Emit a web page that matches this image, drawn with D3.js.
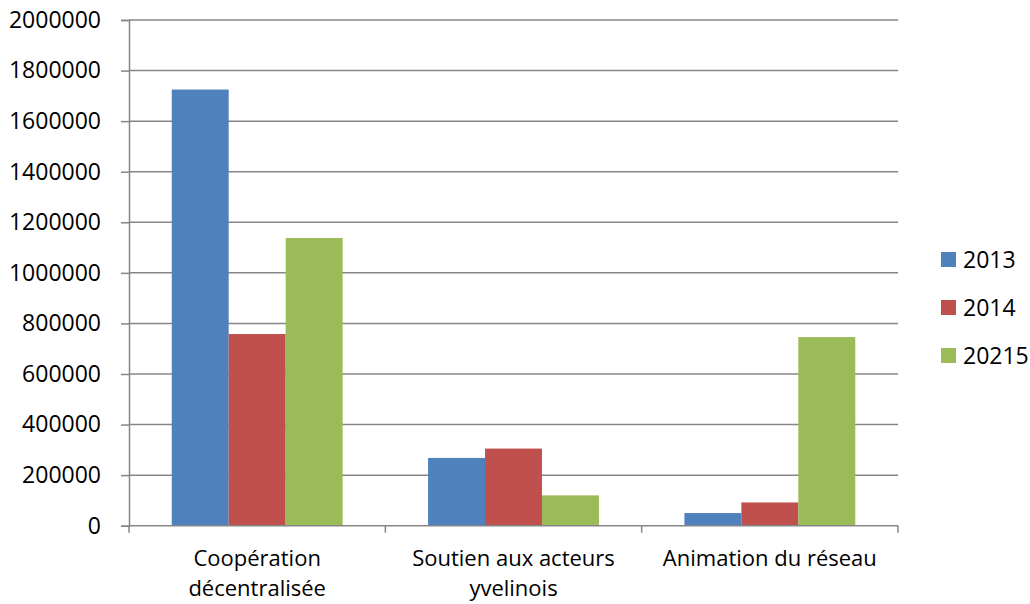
<!DOCTYPE html>
<html>
<head>
<meta charset="utf-8">
<script src="https://cdn.jsdelivr.net/npm/d3@7"></script>
<style>
  html, body { margin: 0; padding: 0; background: #fff; }
  svg text { font-family: "Open Sans", "DejaVu Sans", sans-serif; fill: #000; }
</style>
</head>
<body>
<svg id="chart" width="1030" height="604"></svg>
<script>
// Budget par axe d'action (euros)
const categories = ["Coopération décentralisée", "Soutien aux acteurs yvelinois", "Animation du réseau"];
const categoryLines = [["Coopération", "décentralisée"], ["Soutien aux acteurs", "yvelinois"], ["Animation du réseau"]];
const seriesNames = ["2013", "2014", "20215"];
const values2013 = [1725000, 268000, 50000];
const values2014 = [758000, 305000, 92000];
const values2015 = [1138000, 120000, 746000];
const seriesColors = ["#4F81BD", "#C0504D", "#9BBB59"];
const yTicks = [0, 200000, 400000, 600000, 800000, 1000000, 1200000, 1400000, 1600000, 1800000, 2000000];

const seriesValues = [values2013, values2014, values2015];
const table = categories.map((c, i) => ({
  category: c,
  lines: categoryLines[i],
  values: seriesNames.map((s, j) => ({ series: s, value: seriesValues[j][i], color: seriesColors[j] }))
}));

const FONT = 23;
const CAT_FONT = 22;
const AXIS_COLOR = "#868686";

const svg = d3.select("#chart");
const plot = { left: 129, right: 898, top: 20, bottom: 525.7 };

const y = d3.scaleLinear().domain([0, 2000000]).range([plot.bottom, plot.top]);
const x0 = d3.scaleBand().domain(categories).range([plot.left, plot.right]).padding(0);
const catW = x0.bandwidth();
const barW = catW / 4.5;
const x1 = d3.scaleBand().domain(seriesNames)
  .range([(catW - 3 * barW) / 2, (catW + 3 * barW) / 2]).padding(0);

// Horizontal gridlines
svg.append("g")
  .selectAll("line")
  .data(yTicks.filter(t => t > 0))
  .join("line")
  .attr("x1", plot.left).attr("x2", plot.right)
  .attr("y1", d => y(d)).attr("y2", d => y(d))
  .attr("stroke", AXIS_COLOR).attr("stroke-width", 1.5);

// Bars
const groups = svg.append("g")
  .selectAll("g")
  .data(table)
  .join("g")
  .attr("transform", d => `translate(${x0(d.category)},0)`);

groups.selectAll("rect")
  .data(d => d.values)
  .join("rect")
  .attr("x", d => x1(d.series))
  .attr("width", x1.bandwidth())
  .attr("y", d => y(d.value))
  .attr("height", d => y(0) - y(d.value))
  .attr("fill", d => d.color);

// Y axis
const yAxis = svg.append("g")
  .attr("transform", `translate(${plot.left},0)`)
  .call(d3.axisLeft(y).tickValues(yTicks).tickFormat(d3.format("d")).tickSize(8).tickPadding(20));
yAxis.select(".domain").attr("stroke", AXIS_COLOR).attr("stroke-width", 1.5);
yAxis.selectAll(".tick line").attr("stroke", AXIS_COLOR).attr("stroke-width", 1.5);
yAxis.selectAll(".tick text").attr("font-size", FONT).attr("font-family", "Open Sans").attr("fill", "#000");

// X axis with ticks at category boundaries
const boundaries = categories.map(c => x0(c)).concat([plot.right]);
svg.append("line")
  .attr("x1", plot.left).attr("x2", plot.right)
  .attr("y1", y(0)).attr("y2", y(0))
  .attr("stroke", AXIS_COLOR).attr("stroke-width", 1.5);
svg.append("g").selectAll("line")
  .data(boundaries)
  .join("line")
  .attr("x1", d => d).attr("x2", d => d)
  .attr("y1", y(0)).attr("y2", y(0) + 7)
  .attr("stroke", AXIS_COLOR).attr("stroke-width", 1.5);

// Category labels, one text per line
svg.append("g").selectAll("text")
  .data(table.flatMap(d => d.lines.map((line, i) => ({ line, i, cx: x0(d.category) + catW / 2 }))))
  .join("text")
  .attr("text-anchor", "middle")
  .attr("font-size", CAT_FONT)
  .attr("x", d => d.cx)
  .attr("y", d => 566 + d.i * 30)
  .text(d => d.line);

// Legend
const legend = svg.append("g").selectAll("g")
  .data(seriesNames)
  .join("g")
  .attr("transform", (d, i) => `translate(941,${252 + i * 48})`);
legend.append("rect")
  .attr("width", 15).attr("height", 15)
  .attr("fill", (d, i) => seriesColors[i]);
legend.append("text")
  .attr("x", 22).attr("y", 16)
  .attr("font-size", FONT)
  .text(d => d);
</script>
</body>
</html>
